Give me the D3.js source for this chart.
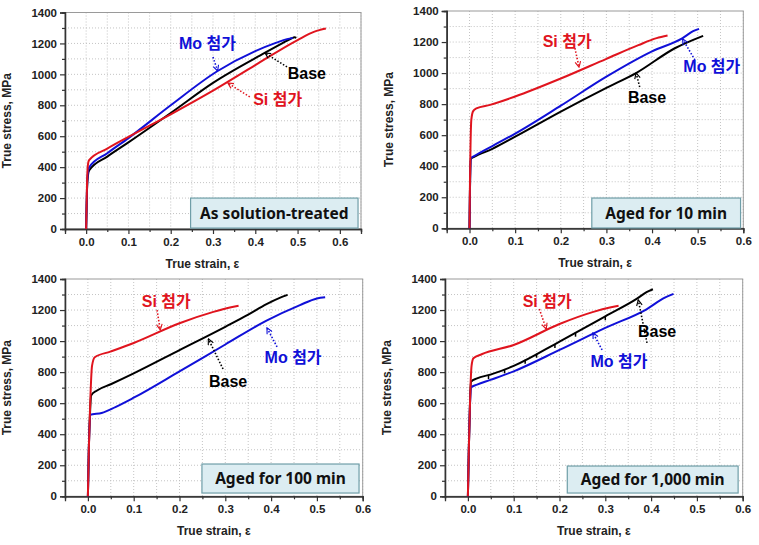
<!DOCTYPE html>
<html><head><meta charset="utf-8">
<script src="https://cdn.jsdelivr.net/npm/d3@7"></script>
<style>
html,body{margin:0;padding:0;background:#fff;}
svg{display:block;}
</style>
</head><body>
<svg id="chart" width="759" height="545"></svg>
<script>
// ---------- DATA (strain, stress MPa) ----------
const xTicks = [0.0, 0.1, 0.2, 0.3, 0.4, 0.5, 0.6];
const yTicks = [0, 200, 400, 600, 800, 1000, 1200, 1400];
const panelTitles = ["As solution-treated", "Aged for 10 min", "Aged for 100 min", "Aged for 1,000 min"];
const seriesNames = ["Base", "Mo 첨가", "Si 첨가"];

// Panel 1: As solution-treated
const p1Base = [[0,0],[0.002,250],[0.004,340],[0.007,378],[0.05,468],[0.1,560],[0.2,750],[0.3,945],[0.42,1135],[0.46,1195],[0.485,1232],[0.493,1240],[0.497,1236]];
const p1Mo   = [[0,0],[0.002,260],[0.004,360],[0.007,398],[0.05,490],[0.1,588],[0.2,800],[0.31,1020],[0.4,1150],[0.45,1205],[0.475,1228],[0.489,1236]];
const p1Si   = [[0,0],[0.002,280],[0.004,410],[0.007,445],[0.05,520],[0.1,596],[0.2,742],[0.3,895],[0.4,1060],[0.5,1222],[0.54,1276],[0.567,1296]];

// Panel 2: Aged 10 min
const p2Base = [[0,0],[0.001,250],[0.003,448],[0.01,460],[0.05,512],[0.1,590],[0.2,752],[0.3,905],[0.365,1000],[0.45,1160],[0.512,1240]];
const p2Mo   = [[0,0],[0.001,250],[0.003,452],[0.01,465],[0.05,530],[0.1,610],[0.2,790],[0.3,977],[0.4,1140],[0.467,1225],[0.49,1270],[0.503,1285]];
const p2Si   = [[0,0],[0.001,300],[0.002,500],[0.004,700],[0.008,755],[0.015,772],[0.045,795],[0.1,849],[0.2,965],[0.3,1092],[0.37,1180],[0.41,1225],[0.434,1242]];

// Panel 3: Aged 100 min
const p3Base = [[0,0],[0.002,300],[0.005,560],[0.007,650],[0.02,682],[0.05,722],[0.1,792],[0.2,942],[0.3,1092],[0.35,1170],[0.39,1238],[0.42,1280],[0.436,1298]];
const p3Mo   = [[0,0],[0.002,300],[0.005,525],[0.03,537],[0.06,575],[0.1,635],[0.2,805],[0.3,978],[0.39,1132],[0.463,1232],[0.5,1275],[0.518,1283]];
const p3Si   = [[0,0],[0.002,300],[0.005,600],[0.009,840],[0.015,896],[0.049,932],[0.1,988],[0.2,1115],[0.274,1188],[0.31,1216],[0.329,1227]];

// Panel 4: Aged 1,000 min
const p4Base = [[0,0],[0.002,300],[0.005,650],[0.007,739],[0.02,760],[0.049,784],[0.1,840],[0.2,997],[0.3,1160],[0.37,1275],[0.39,1315],[0.404,1334]];
const p4Mo   = [[0,0],[0.002,300],[0.005,620],[0.007,702],[0.02,720],[0.049,750],[0.1,805],[0.2,943],[0.3,1085],[0.39,1205],[0.43,1280],[0.449,1304]];
const p4Si   = [[0,0],[0.002,300],[0.005,650],[0.008,840],[0.012,889],[0.03,915],[0.1,975],[0.2,1110],[0.274,1188],[0.31,1216],[0.329,1227]];
const p4BaseSerrations = [0.045, 0.08, 0.125, 0.15, 0.19, 0.235, 0.3];

// Annotation anchors in data coordinates: [textX, textY, arrowFromX, arrowFromY, tipX, tipY]
const p1Notes = [[0.522,1009,0.475,1048,0.423,1138],[0.287,1203,0.300,1112,0.311,1022],[0.453,841,0.387,854,0.335,944]];
const p2Notes = [[0.389,846,0.373,910,0.365,1001],[0.531,1045,0.494,1084,0.467,1220],[0.214,1207,0.231,1161,0.240,1038]];
const p3Notes = [[0.306,743,0.295,820,0.263,1014],[0.448,892,0.413,962,0.391,1085],[0.171,1253,0.151,1200,0.158,1072]];
const p4Notes = [[0.413,1065,0.391,988,0.372,1265],[0.330,872,0.293,943,0.273,1053],[0.173,1253,0.156,1207,0.171,1078]];
// Title box extents [x0, x1, yTop, yBottom] in data coords
const boxExtents = [[0.247,0.643,200,6],[0.268,0.594,195,2],[0.249,0.592,208,21],[0.217,0.590,195,21]];

// ---------- LAYOUT ----------
const colors = ["#000000", "#1010d8", "#e0141e"];
const panels = [
  {left:65,  right:361,   top:12.5, bottom:229,   xmax:0.65, series:[p1Base,p1Mo,p1Si], notes:p1Notes},
  {left:446.7,right:743.3,top:11,   bottom:228.3, xmax:0.6,  series:[p2Base,p2Mo,p2Si], notes:p2Notes},
  {left:65,  right:362.7, top:279,  bottom:496.3, xmax:0.6,  series:[p3Base,p3Mo,p3Si], notes:p3Notes},
  {left:445, right:742.7, top:279,  bottom:496.3, xmax:0.6,  series:[p4Base,p4Mo,p4Si], notes:p4Notes}
];

const svg = d3.select("#chart");
const defs = svg.append("defs");
colors.forEach((c,i)=>{
  defs.append("marker").attr("id","arr"+i).attr("viewBox","0 0 10 10")
    .attr("refX",9).attr("refY",5).attr("markerWidth",7).attr("markerHeight",7)
    .attr("orient","auto").attr("markerUnits","userSpaceOnUse")
    .append("path").attr("d","M1,1 L9,5 L1,9").attr("fill","none")
    .attr("stroke",c).attr("stroke-width",1.6);
});

const tickFont = "'Liberation Sans', Arial, sans-serif";
const noteFont = "'Liberation Sans', 'Noto Sans CJK KR', sans-serif";

panels.forEach((p, pi) => {
  const x = d3.scaleLinear().domain([-0.05, p.xmax]).range([p.left, p.right]);
  const y = d3.scaleLinear().domain([0, 1400]).range([p.bottom, p.top]);
  const g = svg.append("g");

  // grid (dotted) at every minor step
  const xMinor = d3.range(0, p.xmax + 1e-9, 0.05);
  const yMinor = d3.range(100, 1400, 100);
  g.selectAll(".gx").data(xMinor).join("line")
    .attr("x1",d=>x(d)).attr("x2",d=>x(d)).attr("y1",p.top).attr("y2",p.bottom)
    .attr("stroke","#bdbdbd").attr("stroke-width",0.9).attr("stroke-dasharray","1,2");
  g.selectAll(".gy").data(yMinor).join("line")
    .attr("x1",p.left).attr("x2",p.right).attr("y1",d=>y(d)).attr("y2",d=>y(d))
    .attr("stroke","#bdbdbd").attr("stroke-width",0.9).attr("stroke-dasharray","1,2");

  // frame
  g.append("rect").attr("x",p.left).attr("y",p.top).attr("width",p.right-p.left).attr("height",p.bottom-p.top)
    .attr("fill","none").attr("stroke","#9a9a9a").attr("stroke-width",1);

  // axes
  const xAxis = d3.axisBottom(x).tickValues(xTicks).tickFormat(d3.format(".1f")).tickSize(5).tickPadding(4);
  const xAxisMinor = d3.axisBottom(x).tickValues(d3.range(0.05, p.xmax+1e-9, 0.1)).tickFormat("").tickSize(3);
  const yAxis = d3.axisLeft(y).tickValues(yTicks).tickFormat(d3.format("d")).tickSize(5).tickPadding(3);
  const yAxisMinor = d3.axisLeft(y).tickValues(d3.range(100, 1400, 200)).tickFormat("").tickSize(3);

  [xAxisMinor, xAxis].forEach(ax=>{
    const a = g.append("g").attr("transform",`translate(0,${p.bottom})`).call(ax);
    a.select(".domain").attr("stroke","#333").attr("stroke-width",1.3);
    a.selectAll(".tick line").attr("stroke","#333").attr("stroke-width",1.2);
    a.selectAll("text").attr("font-family",tickFont).attr("font-weight","bold").attr("font-size","11.5px").attr("fill","#222");
  });
  [yAxisMinor, yAxis].forEach(ax=>{
    const a = g.append("g").attr("transform",`translate(${p.left},0)`).call(ax);
    a.select(".domain").attr("stroke","#333").attr("stroke-width",1.3);
    a.selectAll(".tick line").attr("stroke","#333").attr("stroke-width",1.2);
    a.selectAll("text").attr("font-family",tickFont).attr("font-weight","bold").attr("font-size","11.5px").attr("fill","#222");
  });

  // axis titles
  g.append("text").attr("x", x(0.275)).attr("y", p.bottom + 39)
    .attr("text-anchor","middle").attr("font-family",tickFont).attr("font-weight","bold")
    .attr("font-size","12px").attr("fill","#222").text("True strain, ε");
  g.append("text").attr("transform",`translate(${p.left-54},${(p.top+p.bottom)/2}) rotate(-90)`)
    .attr("text-anchor","middle").attr("font-family",tickFont).attr("font-weight","bold")
    .attr("font-size","12px").attr("fill","#222").text("True stress, MPa");

  // curves
  const line = d3.line().x(d=>x(d[0])).y(d=>y(d[1])).curve(d3.curveMonotoneX);
  p.series.forEach((s, si) => {
    g.append("path").datum(s).attr("d", line).attr("fill","none")
      .attr("stroke", colors[si]).attr("stroke-width", 2).attr("stroke-linejoin","round");
  });
  // serrations on Base curve in panel 4
  if (pi === 3) {
    const interp = s => {
      const d = p4Base; for (let i=1;i<d.length;i++){ if (s<=d[i][0]) { const t=(s-d[i-1][0])/(d[i][0]-d[i-1][0]); return d[i-1][1]+t*(d[i][1]-d[i-1][1]); } } return d[d.length-1][1];
    };
    g.selectAll(".ser").data(p4BaseSerrations).join("line")
      .attr("x1",d=>x(d)).attr("x2",d=>x(d)).attr("y1",d=>y(interp(d))).attr("y2",d=>y(interp(d))+4)
      .attr("stroke","#000").attr("stroke-width",1.5);
  }

  // annotations
  p.notes.forEach((n, si) => {
    g.append("line").attr("x1",x(n[2])).attr("y1",y(n[3])).attr("x2",x(n[4])).attr("y2",y(n[5]))
      .attr("stroke",colors[si]).attr("stroke-width",1.6).attr("stroke-dasharray","1.5,1.8")
      .attr("marker-end","url(#arr"+si+")");
    g.append("text").attr("x",x(n[0])).attr("y",y(n[1])).attr("dy","0.35em")
      .attr("text-anchor","middle").attr("font-family",noteFont).attr("font-weight","bold")
      .attr("font-size","16px").attr("fill",colors[si]).text(seriesNames[si]);
  });

  // title box
  const b = boxExtents[pi];
  g.append("rect").attr("x",x(b[0])).attr("y",y(b[2])).attr("width",x(b[1])-x(b[0])).attr("height",y(b[3])-y(b[2]))
    .attr("fill","#dcedf2").attr("stroke","#6f9ea8").attr("stroke-width",1.2);
  g.append("text").attr("x",(x(b[0])+x(b[1]))/2).attr("y",(y(b[2])+y(b[3]))/2).attr("dy","0.36em")
    .attr("text-anchor","middle").attr("font-family","'Noto Sans', 'Open Sans', sans-serif").attr("font-weight","bold")
    .attr("font-size","15.5px").attr("fill","#111").text(panelTitles[pi]);
});
</script>
</body></html>
